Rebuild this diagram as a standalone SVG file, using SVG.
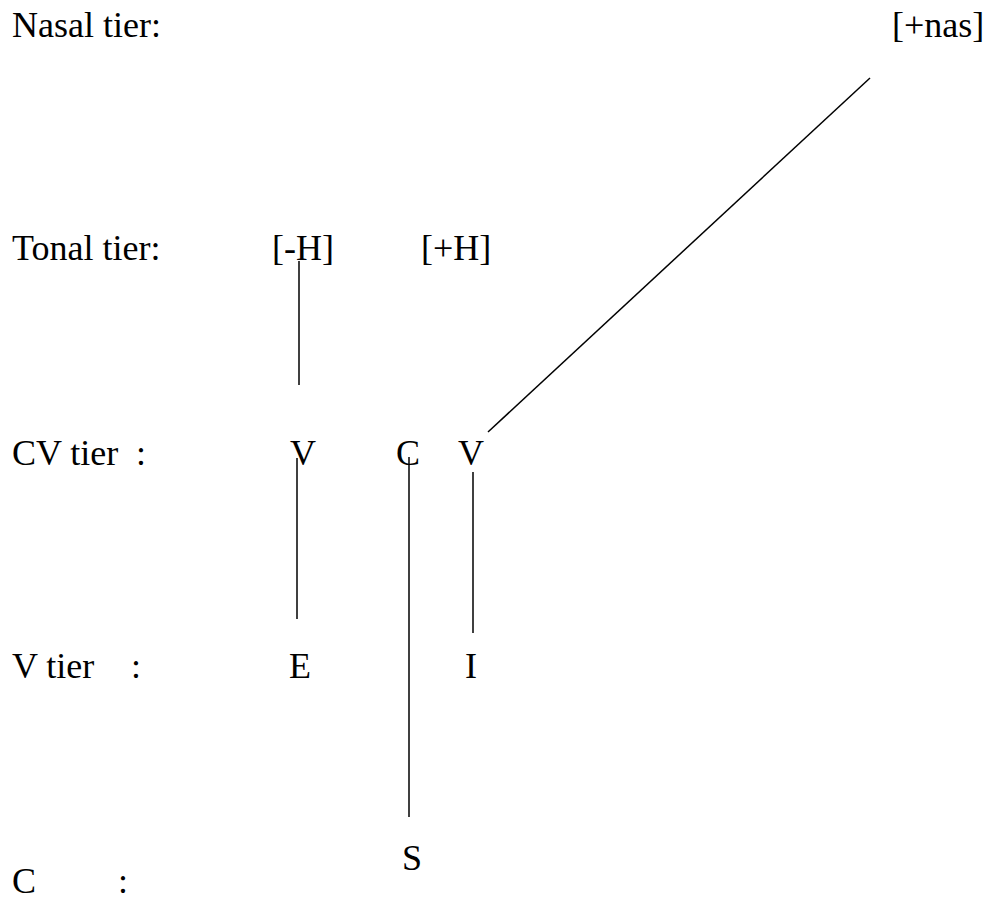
<svg xmlns="http://www.w3.org/2000/svg" width="989" height="900" viewBox="0 0 989 900">
<style>
text{font-family:"Liberation Serif","Tinos","Times New Roman","Noto Serif","DejaVu Serif",serif;font-size:36px;fill:#000}
.c line{stroke:#000;stroke-width:1.5}
</style>
<rect width="989" height="900" fill="#fff"/>
<g id="labels">
<text x="12" y="37">Nasal tier:</text>
<text x="12" y="260">Tonal tier:</text>
<text x="12" y="465">CV tier<tspan x="136">:</tspan></text>
<text x="12" y="678">V tier<tspan x="131">:</tspan></text>
<text x="12" y="893">C<tspan x="118">:</tspan></text>
</g>
<g id="nas"><text x="892" y="37">[+nas]</text></g>
<g id="minusH"><text x="272" y="260">[-H]</text></g>
<g id="plusH"><text x="421" y="260">[+H]</text></g>
<g id="V1"><text x="290" y="465">V</text></g>
<g id="C1"><text x="396" y="465">C</text></g>
<g id="V2"><text x="458" y="465">V</text></g>
<g id="E"><text x="289" y="678">E</text></g>
<g id="I"><text x="465" y="678">I</text></g>
<g id="S"><text x="402" y="870">S</text></g>
<g class="c" id="connectors">
<line x1="870" y1="78" x2="488" y2="432"/>
<line x1="299" y1="261" x2="299" y2="385"/>
<line x1="297" y1="458" x2="297" y2="619"/>
<line x1="409" y1="457" x2="409" y2="817"/>
<line x1="473" y1="472" x2="473" y2="633"/>
</g>
</svg>
